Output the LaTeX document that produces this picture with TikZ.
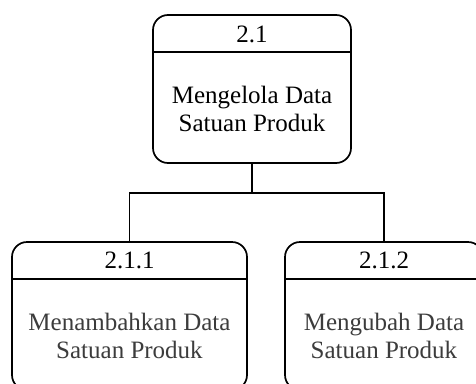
\documentclass[tikz,border=0pt]{standalone}
\usepackage{fontspec}
\setmainfont{Liberation Serif}
\usepackage{tikz}
\usetikzlibrary{positioning, calc}
\definecolor{softtext}{RGB}{60,60,60}

\begin{document}
\begin{tikzpicture}[
    x=1pt, y=-1pt,
    proc/.style={rectangle, rounded corners=15pt, draw, line width=1.7pt, minimum height=148pt, inner sep=0pt},
    num/.style={font=\fontsize{25}{28}\selectfont, inner sep=0pt, anchor=base},
    body/.style={font=\fontsize{25}{28}\selectfont, align=center, inner sep=0pt},
    conn/.style={line width=1.7pt}
]
\useasboundingbox (0,0) rectangle (476,383);
\clip (0,0) rectangle (476,383);

% Parent process
\node[proc, minimum width=198pt] (p21) at (252, 89) {};
\draw[conn] ([yshift=-38pt]p21.north west) -- ([yshift=-38pt]p21.north east);
\node[num] (p21num) at ([yshift=-28pt]p21.north) {2.1};
\node[body] (p21txt) at ([yshift=-95pt]p21.north) {Mengelola Data\\Satuan Produk};

% Child processes
\node[proc, minimum width=235pt] (p211) at (129.5, 316) {};
\draw[conn] ([yshift=-38pt]p211.north west) -- ([yshift=-38pt]p211.north east);
\node[num] (p211num) at ([yshift=-27pt]p211.north) {2.1.1};
\node[body, text=softtext] (p211txt) at ([yshift=-95pt]p211.north) {Menambahkan Data\\Satuan Produk};

\node[proc, minimum width=198pt] (p212) at (384, 316) {};
\draw[conn] ([yshift=-38pt]p212.north west) -- ([yshift=-38pt]p212.north east);
\node[num] (p212num) at ([yshift=-27pt]p212.north) {2.1.2};
\node[body, text=softtext] (p212txt) at ([yshift=-95pt]p212.north) {Mengubah Data\\Satuan Produk};

% Tree connectors
\draw[conn] (p21.south) -- ++(0,29) coordinate (bus);
\draw[conn] (p211.north) |- (bus) -| (p212.north);

\end{tikzpicture}
\end{document}
